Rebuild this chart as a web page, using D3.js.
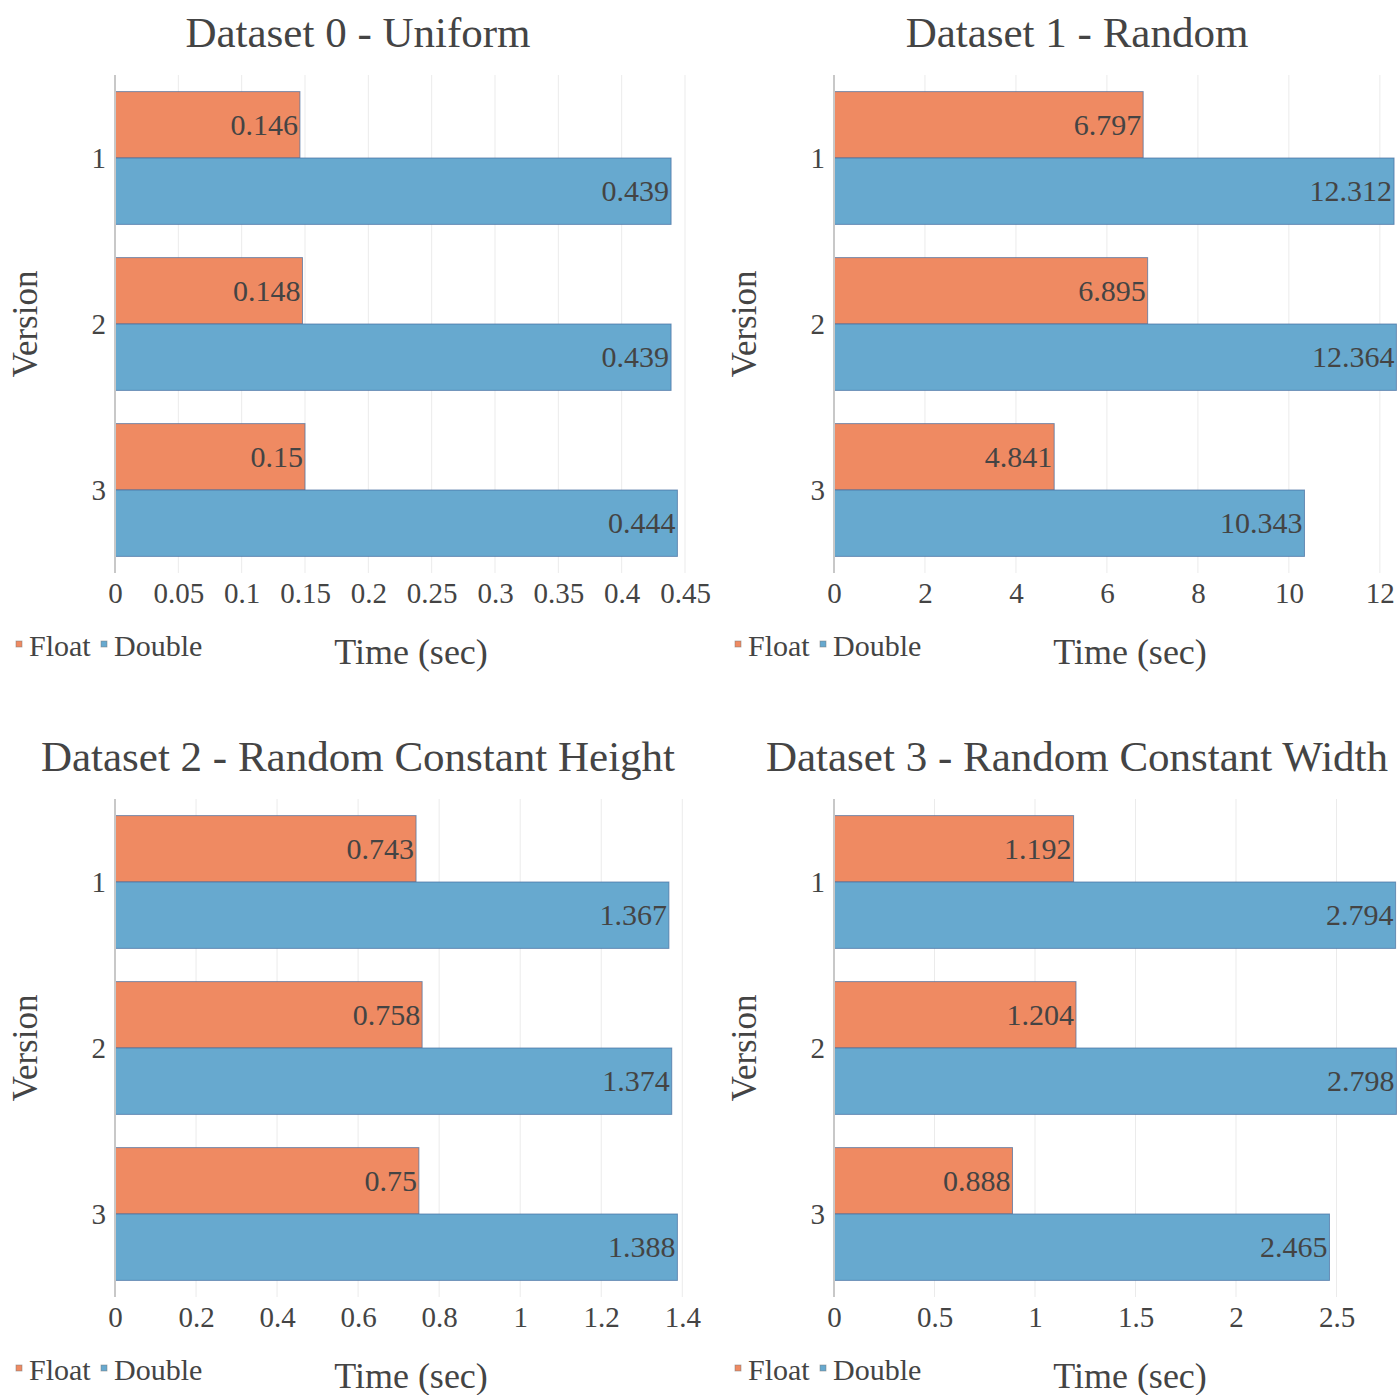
<!DOCTYPE html>
<html>
<head>
<meta charset="utf-8">
<script src="https://cdn.jsdelivr.net/npm/d3@7"></script>
<style>
  html, body { margin: 0; padding: 0; background: #fff; }
  svg { display: block; }
  svg text { font-family: "Liberation Serif", Tinos, "Times New Roman", Times, serif !important; fill: #444; }
</style>
</head>
<body>
<script>
// Benchmark timings (seconds) per dataset, version and precision
const versions = ["1", "2", "3"];
const seriesNames = ["Float", "Double"];
const panelTitles = [
  "Dataset 0 - Uniform",
  "Dataset 1 - Random",
  "Dataset 2 - Random Constant Height",
  "Dataset 3 - Random Constant Width"
];
const floatTimes = [
  [0.146, 0.148, 0.15],
  [6.797, 6.895, 4.841],
  [0.743, 0.758, 0.75],
  [1.192, 1.204, 0.888]
];
const doubleTimes = [
  [0.439, 0.439, 0.444],
  [12.312, 12.364, 10.343],
  [1.367, 1.374, 1.388],
  [2.794, 2.798, 2.465]
];
const tickValues = [
  [0, 0.05, 0.1, 0.15, 0.2, 0.25, 0.3, 0.35, 0.4, 0.45],
  [0, 2, 4, 6, 8, 10, 12],
  [0, 0.2, 0.4, 0.6, 0.8, 1, 1.2, 1.4],
  [0, 0.5, 1, 1.5, 2, 2.5]
];
const xTitle = "Time (sec)";
const yTitle = "Version";

const colors = { Float: "#ef8a62", Double: "#67a9cf" };
const W = 1399, H = 1395;
const panelW = 719, panelH = 724;
const plot = { left: 115, right: 685, top: 75, bottom: 573 };
const serif = "'Liberation Serif', Tinos, 'Times New Roman', Times, serif";

const svg = d3.select("body").append("svg")
  .attr("width", W).attr("height", H)
  .attr("viewBox", `0 0 ${W} ${H}`);

panelTitles.forEach((title, i) => {
  const g = svg.append("g")
    .attr("transform", `translate(${(i % 2) * panelW},${Math.floor(i / 2) * panelH})`);

  const rows = versions.map((v, j) => ({
    version: v,
    Float: floatTimes[i][j],
    Double: doubleTimes[i][j]
  }));
  const maxVal = d3.max(rows, d => Math.max(d.Float, d.Double));

  // small headroom past the longest bar
  const x = d3.scaleLinear()
    .domain([0, maxVal * 1.0135])
    .range([plot.left, plot.right]);
  const y = d3.scaleBand()
    .domain(versions)
    .range([plot.top, plot.bottom])
    .paddingInner(0.2).paddingOuter(0.1);
  const ySub = d3.scaleBand()
    .domain(seriesNames)
    .range([0, y.bandwidth()]);

  // vertical gridlines
  g.append("g").selectAll("line")
    .data(tickValues[i].filter(t => t > 0))
    .join("line")
    .attr("x1", d => x(d)).attr("x2", d => x(d))
    .attr("y1", plot.top).attr("y2", plot.bottom)
    .attr("stroke", "#ebebeb").attr("stroke-width", 1);

  // bars with value labels at their inner end
  const groups = g.append("g").selectAll("g")
    .data(rows).join("g")
    .attr("transform", d => `translate(0,${y(d.version)})`);

  seriesNames.forEach(s => {
    groups.append("rect")
      .attr("x", x(0))
      .attr("y", ySub(s))
      .attr("width", d => x(d[s]) - x(0))
      .attr("height", ySub.bandwidth())
      .attr("fill", colors[s])
      .attr("stroke", "rgba(70,110,160,0.7)")
      .attr("stroke-width", 1);
    groups.append("text")
      .attr("x", d => x(d[s]) - 2)
      .attr("y", ySub(s) + ySub.bandwidth() / 2)
      .attr("dy", "0.34em")
      .attr("text-anchor", "end")
      .style("font-size", "30px")
      .text(d => d[s]);
  });

  // y axis line
  g.append("line")
    .attr("x1", plot.left).attr("x2", plot.left)
    .attr("y1", plot.top).attr("y2", plot.bottom)
    .attr("stroke", "#c8c8c8").attr("stroke-width", 2);

  // x axis
  const xAxis = d3.axisBottom(x).tickValues(tickValues[i])
    .tickSize(0).tickPadding(0).tickFormat(d3.format("~g"));
  const ax = g.append("g")
    .attr("transform", `translate(0,${plot.bottom})`)
    .attr("font-family", serif)
    .call(xAxis);
  ax.select(".domain").remove();
  ax.selectAll("text")
    .attr("dy", null).attr("y", 30)
    .style("font-size", "29px")
    .attr("fill", "#444");

  // y axis category labels
  const yAxis = d3.axisLeft(y).tickSize(0).tickPadding(0);
  const ay = g.append("g")
    .attr("transform", `translate(106,0)`)
    .attr("font-family", serif)
    .call(yAxis);
  ay.select(".domain").remove();
  ay.selectAll("text")
    .attr("dy", "0.34em").attr("x", 0)
    .style("font-size", "29px")
    .attr("fill", "#444");

  // titles
  g.append("text")
    .attr("x", 358).attr("y", 47)
    .attr("text-anchor", "middle")
    .style("font-size", "43px")
    .text(title);
  g.append("text")
    .attr("x", 411).attr("y", 664)
    .attr("text-anchor", "middle")
    .style("font-size", "36px")
    .text(xTitle);
  g.append("text")
    .attr("transform", `translate(37,${(plot.top + plot.bottom) / 2}) rotate(-90)`)
    .attr("text-anchor", "middle")
    .style("font-size", "35px")
    .text(yTitle);

  // legend
  const legendX = [16, 101];
  seriesNames.forEach((s, k) => {
    g.append("rect")
      .attr("x", legendX[k]).attr("y", 641)
      .attr("width", 6).attr("height", 6)
      .attr("fill", colors[s])
      .attr("stroke", "rgba(120,120,120,0.6)").attr("stroke-width", 0.8);
    g.append("text")
      .attr("x", legendX[k] + 13).attr("y", 656)
      .style("font-size", "30px")
      .text(s);
  });
});
</script>
</body>
</html>
